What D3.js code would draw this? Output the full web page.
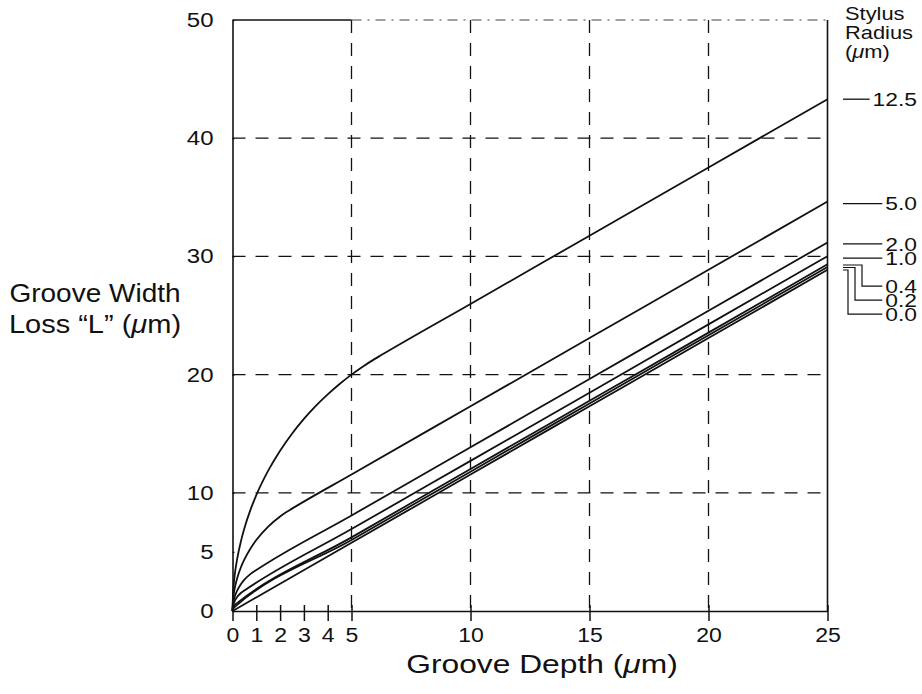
<!DOCTYPE html>
<html>
<head>
<meta charset="utf-8">
<script src="https://cdn.jsdelivr.net/npm/d3@7"></script>
<style>
  html, body { margin: 0; padding: 0; background: #fff; }
  svg { display: block; }
  text { font-family: "Liberation Sans", Arial, Helvetica, sans-serif; fill: #111; }
</style>
</head>
<body>
<svg id="chart" width="922" height="694"></svg>
<script>
// ---------- data ----------
const stylusRadii = ["12.5", "5.0", "2.0", "1.0", "0.4", "0.2", "0.0"];

const curve12_5 = [[0,0],[0.02,1.41],[0.05,2.23],[0.1,3.16],[0.2,4.45],[0.35,5.87],[0.5,7.0],[0.75,8.53],[1,9.8],[1.5,11.87],[2,13.56],[2.5,15.0],[3,16.25],[3.5,17.35],[4,18.33],[4.5,19.21],[5,20.0],[5.5,20.71],[6,21.35],[6.25,21.65],[10,25.98],[15,31.75],[20,37.52],[25,43.3]];
const curve5_0 = [[0,0],[0.02,0.89],[0.05,1.41],[0.1,1.99],[0.2,2.8],[0.35,3.68],[0.5,4.36],[0.75,5.27],[1,6.0],[1.5,7.14],[2,8.0],[2.25,8.35],[2.5,8.66],[5,11.55],[10,17.32],[15,23.09],[20,28.87],[25,34.64]];
const curve2_0 = [[0,0],[0.02,0.56],[0.05,0.89],[0.1,1.25],[0.2,1.74],[0.35,2.26],[0.5,2.65],[0.75,3.12],[1,3.46],[5,8.08],[10,13.85],[15,19.63],[20,25.4],[25,31.18]];
const curve1_0 = [[0,0],[0.02,0.4],[0.05,0.62],[0.1,0.87],[0.2,1.2],[0.35,1.52],[0.5,1.73],[5,6.93],[10,12.7],[15,18.47],[20,24.25],[25,30.02]];
const curve0_4 = [[0,0],[0.05,0.39],[0.1,0.53],[0.2,0.69],[5,6.23],[10,12.01],[15,17.78],[20,23.55],[25,29.33]];
const curve0_2 = [[0,0],[0.05,0.26],[0.1,0.35],[5,6.01],[10,11.78],[15,17.56],[20,23.33],[25,29.1]];
const curve0_0 = [[0,0],[5,5.77],[10,11.55],[15,17.32],[20,23.09],[25,28.87]];

const xTickValues = [0,1,2,3,4,5,10,15,20,25];
const yTickValues = [0,5,10,20,30,40,50];
const xGridValues = [5,10,15,20];
const yGridValues = [10,20,30,40];

const xTitle = "Groove Depth (";
const yTitle1 = "Groove Width";
const yTitle2 = "Loss \u201CL\u201D (";
const legendTitle = ["Stylus", "Radius"];

// ---------- helpers ----------
function widen(sel, k) {
  sel.each(function () {
    const w = this.getComputedTextLength();
    d3.select(this).attr("textLength", w * k).attr("lengthAdjust", "spacingAndGlyphs");
  });
}

// ---------- layout ----------
const svg = d3.select("#chart");
const x = d3.scaleLinear().domain([0, 25]).range([232.5, 827.5]);
const y = d3.scaleLinear().domain([0, 50]).range([611, 20]);

const series = [curve12_5, curve5_0, curve2_0, curve1_0, curve0_4, curve0_2, curve0_0]
  .map((pts, i) => ({ name: stylusRadii[i], pts }));

// grid (dashed)
const grid = svg.append("g").attr("stroke", "#111").attr("stroke-width", 1.3)
  .attr("stroke-dasharray", "13,10").attr("fill", "none");
grid.selectAll("line.v").data(xGridValues).join("line")
  .attr("x1", d => x(d)).attr("x2", d => x(d))
  .attr("y1", y(50)).attr("y2", y(0));
grid.selectAll("line.h").data(yGridValues).join("line")
  .attr("x1", x(0)).attr("x2", x(25))
  .attr("y1", d => y(d)).attr("y2", d => y(d));
// top border: solid part then light dash-dot
svg.append("line").attr("x1", x(0)).attr("x2", x(5)).attr("y1", y(50)).attr("y2", y(50))
  .attr("stroke", "#111").attr("stroke-width", 1.4);
svg.append("line").attr("x1", x(5)).attr("x2", x(25)).attr("y1", y(50)).attr("y2", y(50))
  .attr("stroke", "#444").attr("stroke-width", 1.1).attr("stroke-dasharray", "10,6,2,6");
// right border
svg.append("line").attr("x1", x(25)).attr("x2", x(25)).attr("y1", y(50)).attr("y2", y(0))
  .attr("stroke", "#111").attr("stroke-width", 1.6);

// axes
const xAxis = d3.axisBottom(x).tickValues(xTickValues).tickFormat(d3.format("d"))
  .tickSizeInner(10).tickSizeOuter(0).tickPadding(7);
const gx = svg.append("g").attr("transform", `translate(0,${y(0)})`).call(xAxis);
gx.select(".domain").attr("stroke", "#111").attr("stroke-width", 1.6);
gx.selectAll(".tick line").attr("stroke", "#111").attr("stroke-width", 1.5).attr("y1", -6);
gx.selectAll(".tick text").attr("font-size", 20).attr("fill", "#111")
  .attr("font-family", "Liberation Sans, Arial, sans-serif");
widen(gx.selectAll(".tick text"), 1.15);

const yAxis = d3.axisLeft(y).tickValues(yTickValues).tickFormat(d3.format("d"))
  .tickSizeInner(10).tickSizeOuter(0).tickPadding(9);
const gy = svg.append("g").attr("transform", `translate(${x(0)},0)`).call(yAxis);
gy.select(".domain").attr("stroke", "#111").attr("stroke-width", 1.6);
gy.selectAll(".tick line").attr("stroke", "#111").attr("stroke-width", 1.3).attr("x2", 2);
gy.selectAll(".tick text").attr("font-size", 20).attr("fill", "#111")
  .attr("font-family", "Liberation Sans, Arial, sans-serif");
widen(gy.selectAll(".tick text"), 1.2);

// curves
const line = d3.line().x(d => x(d[0])).y(d => y(d[1])).curve(d3.curveMonotoneX);
svg.append("g").selectAll("path").data(series).join("path")
  .attr("d", d => line(d.pts))
  .attr("fill", "none").attr("stroke", "#111").attr("stroke-width", 1.8);

// axis titles
const tx = svg.append("text").attr("x", 542).attr("y", 673).attr("text-anchor", "middle")
  .attr("font-size", 25);
tx.append("tspan").text(xTitle);
tx.append("tspan").attr("font-style", "italic").text("\u03BC");
tx.append("tspan").text("m)");
widen(tx, 1.27);

const ty1 = svg.append("text").attr("x", 95).attr("y", 302).attr("text-anchor", "middle")
  .attr("font-size", 25).text(yTitle1);
widen(ty1, 1.12);
const ty2 = svg.append("text").attr("x", 95).attr("y", 333).attr("text-anchor", "middle")
  .attr("font-size", 25);
ty2.append("tspan").text(yTitle2);
ty2.append("tspan").attr("font-style", "italic").text("\u03BC");
ty2.append("tspan").text("m)");
widen(ty2, 1.16);

// legend
const lgX = 845;
const lgRight = 917;
const lg = svg.append("g");
const h1 = lg.append("text").attr("x", lgX).attr("y", 20).attr("font-size", 19).text(legendTitle[0]);
const h2 = lg.append("text").attr("x", lgX).attr("y", 39).attr("font-size", 19).text(legendTitle[1]);
const h3 = lg.append("text").attr("x", lgX).attr("y", 58).attr("font-size", 19);
h3.append("tspan").text("(");
h3.append("tspan").attr("font-style", "italic").text("\u03BC");
h3.append("tspan").text("m)");
[h1, h2, h3].forEach(t => widen(t, 1.15));

const endVal = s => s.pts[s.pts.length - 1][1];
// top four: straight leader at the curve's end height, label right-aligned
const labelY = { "12.5": y(endVal(series[0])), "5.0": y(endVal(series[1])) + 2,
  "2.0": y(endVal(series[2])) + 1.5, "1.0": y(endVal(series[3])) + 2 };
series.slice(0, 4).forEach(s => {
  const yy = labelY[s.name];
  const t = lg.append("text").attr("x", lgRight).attr("y", yy).attr("dy", "0.36em")
    .attr("text-anchor", "end").attr("font-size", 19).text(s.name);
  widen(t, 1.2);
  const w = +t.attr("textLength");
  lg.append("line").attr("x1", 843).attr("x2", lgRight - w - 3).attr("y1", yy).attr("y2", yy)
    .attr("stroke", "#111").attr("stroke-width", 1.3);
});
// bottom three: bracket leaders
const bendX = [862, 855, 848];
const startY = [265, 267.5, 270];
series.slice(4).forEach((s, i) => {
  const yLab = y(endVal(series[3])) + 30 + i * 14;
  const t = lg.append("text").attr("x", lgRight).attr("y", yLab).attr("dy", "0.36em")
    .attr("text-anchor", "end").attr("font-size", 19).text(s.name);
  widen(t, 1.2);
  const w = +t.attr("textLength");
  lg.append("path")
    .attr("d", `M843,${startY[i]} H${bendX[i]} V${yLab} H${lgRight - w - 3}`)
    .attr("fill", "none").attr("stroke", "#111").attr("stroke-width", 1.2);
});
</script>
</body>
</html>
